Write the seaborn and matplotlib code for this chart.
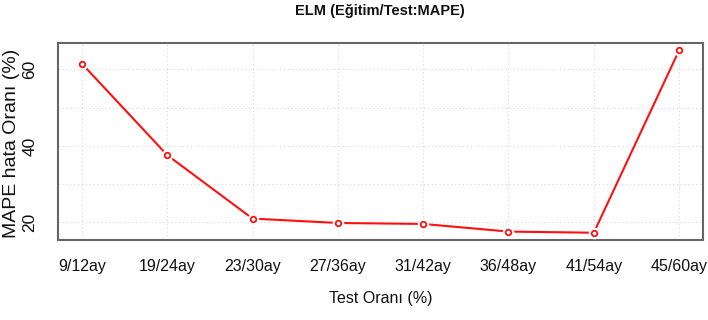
import matplotlib
matplotlib.use("Agg")
import matplotlib.pyplot as plt
import seaborn as sns
import pandas as pd

# Test ratio labels and the MAPE error per split
oranlar = ["9/12ay", "19/24ay", "23/30ay", "27/36ay", "31/42ay", "36/48ay", "41/54ay", "45/60ay"]
mape = [61.5, 37.6, 21.0, 19.85, 19.6, 17.6, 17.3, 65.0]
y_ticks = [20, 30, 40, 50, 60]
y_labels = ["20", "", "40", "", "60"]

sns.set_style("white")
plt.rcParams["font.family"] = ["Liberation Sans", "DejaVu Sans"]

df = pd.DataFrame({"oran": oranlar, "mape": mape, "pos": range(len(oranlar))})

fig = plt.figure(figsize=(7.08, 3.2), dpi=100)
ax = fig.add_axes([58 / 708, 80 / 320, 645 / 708, 197 / 320])

# dotted grid
for yv in y_ticks:
    ax.axhline(yv, color="#d9d9d9", lw=0.8, ls=(0, (1, 2.5)), zorder=0)
for xv in df["pos"]:
    ax.axvline(xv, color="#d9d9d9", lw=0.8, ls=(0, (1, 2.5)), zorder=0)

sns.lineplot(data=df, x="pos", y="mape", color="#ff1010", lw=1.5, ax=ax, zorder=2)
# white halo leaves a gap between line and point
sns.scatterplot(data=df, x="pos", y="mape", color="white", s=70, marker="o",
                linewidth=0, ax=ax, zorder=3)
sns.scatterplot(data=df, x="pos", y="mape", facecolor="white", edgecolor="#ff1010",
                s=16, marker="o", linewidth=1.3, ax=ax, zorder=4)

ax.set_xlim(-0.28, 7.28)
ax.set_ylim(15.4, 66.9)
ax.set_xticks(list(df["pos"]))
ax.set_xticklabels(oranlar, fontsize=11.5, color="#111111")
ax.set_yticks(y_ticks)
ax.set_yticklabels(y_labels, fontsize=12.5, rotation=90, va="center", color="#111111")
ax.tick_params(axis="both", direction="out", length=6, width=1, color="#555555")
ax.tick_params(axis="x", pad=8)
ax.tick_params(axis="y", pad=9)

for sp in ax.spines.values():
    sp.set_color("#666666")
    sp.set_linewidth(1.5)

ax.set_xlabel("Test Oranı (%)", fontsize=11.5, labelpad=12, color="#111111")
ax.set_ylabel("MAPE hata Oranı (%)", fontsize=14, color="#111111", va="center")
ax.yaxis.set_label_coords((12 - 58) / 645, 0.49)
fig.text(380 / 708, 1 - 11 / 320, "ELM (Eğitim/Test:MAPE)", ha="center", va="center",
         fontsize=10.5, fontweight="bold", color="#111111")

fig.savefig("out.png", dpi=100, facecolor="white")
